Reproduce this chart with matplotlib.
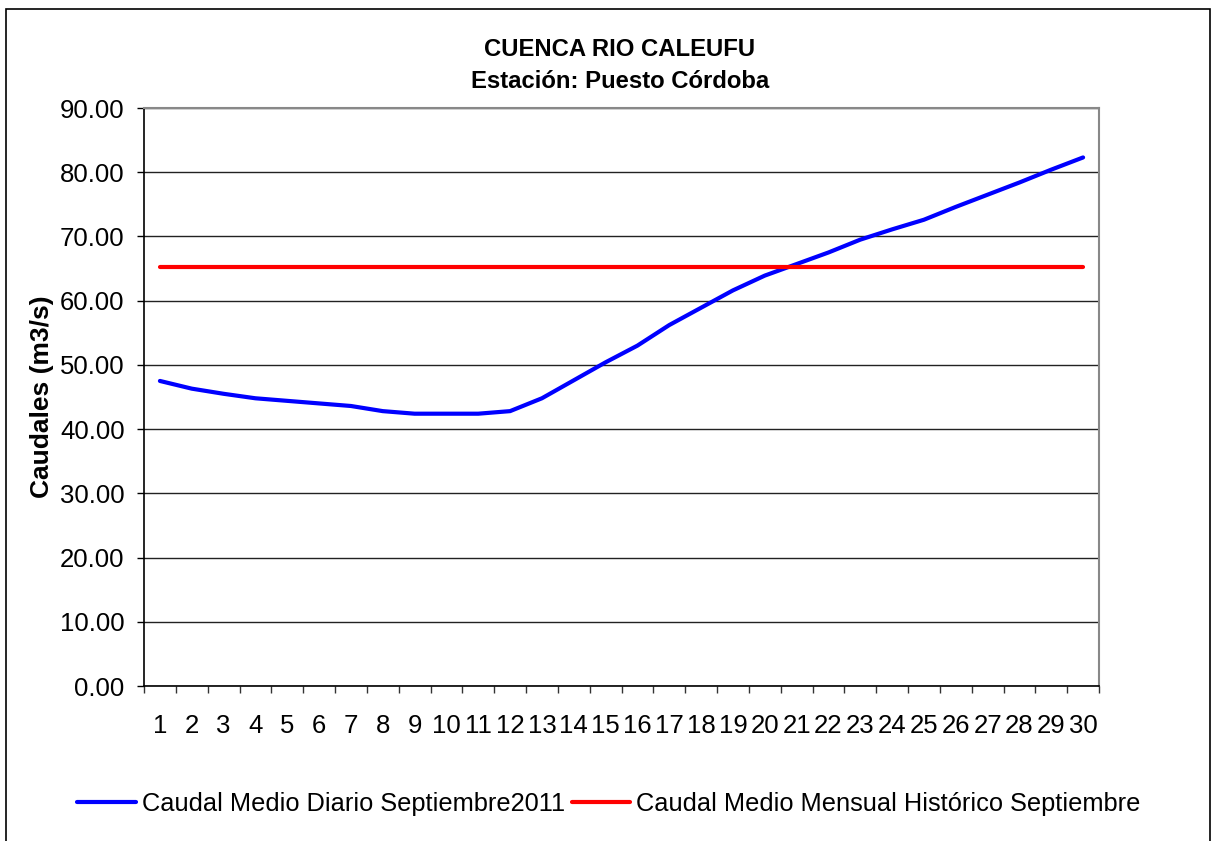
import matplotlib.pyplot as plt
import matplotlib.patches as patches
import numpy as np

plt.rcParams['font.family'] = ['Liberation Sans', 'DejaVu Sans']

# Data
dias = list(range(1, 31))
caudal_diario = [47.5, 46.3, 45.5, 44.8, 44.4, 44.0, 43.6, 42.8, 42.4, 42.4,
                 42.4, 42.8, 44.8, 47.6, 50.4, 53.0, 56.2, 58.9, 61.6, 63.9,
                 65.7, 67.5, 69.5, 71.1, 72.6, 74.6, 76.5, 78.4, 80.4, 82.3]
caudal_historico = [65.3] * 30
titulo = 'CUENCA RIO CALEUFU\nEstación: Puesto Córdoba'
serie1 = 'Caudal Medio Diario Septiembre2011'
serie2 = 'Caudal Medio Mensual Histórico Septiembre'

fig = plt.figure(figsize=(12.12, 8.41), dpi=100)
ax = fig.add_axes([144/1212, 1 - 686/841, (1099-144)/1212, (686-108)/841])

ax.plot(dias, caudal_diario, color='#0000ff', lw=3, solid_capstyle='round', label=serie1, zorder=3)
ax.plot(dias, caudal_historico, color='#ff0000', lw=3, solid_capstyle='round', label=serie2, zorder=3)

ax.set_xlim(0.5, 30.5)
ax.set_ylim(0, 90)
ax.set_yticks(np.arange(0, 91, 10))
ax.set_yticklabels(['%.2f' % v for v in np.arange(0, 91, 10)])
ax.set_xticks(dias)
ax.set_xticklabels([str(d) for d in dias])
ax.set_xticks(np.arange(0.5, 31, 1), minor=True)
ax.tick_params(axis='x', which='major', length=0, pad=20, labelsize=18.5)
ax.tick_params(axis='x', which='minor', length=5, width=1, color='#333333')
ax.tick_params(axis='y', length=5, width=1, pad=9, labelsize=18.5)
ax.yaxis.grid(True, color='#222222', lw=1)
ax.set_axisbelow(True)

for s in ['top', 'right']:
    ax.spines[s].set_color('#888888')
    ax.spines[s].set_linewidth(1.5)
for s in ['left', 'bottom']:
    ax.spines[s].set_color('#000000')
    ax.spines[s].set_linewidth(1.2)

ax.set_ylabel('Caudales (m3/s)', fontsize=19, fontweight='bold', labelpad=4)
fig.text(620/1212, 1 - 66/841, titulo, ha='center', va='center', fontsize=17.2,
         fontweight='bold', linespacing=1.5)

fig.legend(loc='center', bbox_to_anchor=(609/1212, 1 - 804/841), ncol=2, frameon=False,
           fontsize=18.3, handlelength=2.3, handletextpad=0.25, columnspacing=0.25)

# Outer chart border
fig.patches.append(patches.Rectangle((6/1212, -0.01), 1204/1212, 1 - 9/841 + 0.01,
                                     transform=fig.transFigure, fill=False,
                                     edgecolor='black', lw=1.2))

fig.savefig('out.png', dpi=100)
